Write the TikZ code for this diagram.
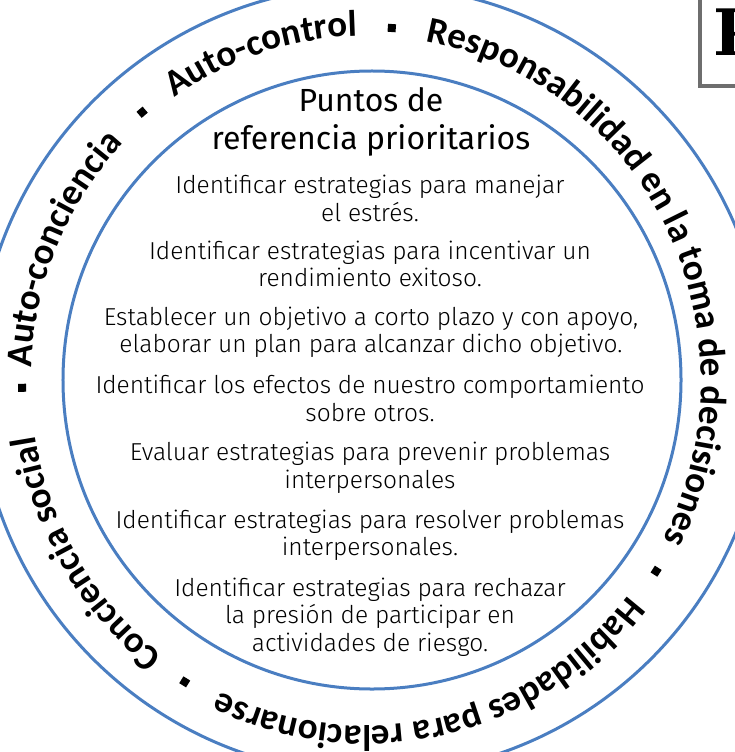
\documentclass[tikz,border=0pt]{standalone}
\usepackage{fontspec}
\usetikzlibrary{decorations.text}
\newfontfamily\ringfont{Carlito}
\newfontfamily\bodyfont{Fira Sans Light}
\newfontfamily\titlefont{Fira Sans}
\newfontfamily\pfont{DejaVu Serif}
\definecolor{ringblue}{RGB}{74,126,193}
\definecolor{boxgray}{RGB}{110,110,110}
\def\ringstyle{\ringfont\bfseries\fontsize{37bp}{40bp}\selectfont}
% text along an elliptical arc centred on (T), mid angle #1, half span #2
\newcommand{\ringarc}[3]{%
  \pgfmathsetmacro{\rsa}{#1+#2}%
  \pgfmathsetmacro{\rea}{#1-#2}%
  \pgfmathsetmacro{\rsx}{335*cos(\rsa)}%
  \pgfmathsetmacro{\rsy}{345*sin(\rsa)}%
  \path[decorate, decoration={text along path, text={|\ringstyle|#3}, text align=center}]
    ([shift={(\rsx,\rsy)}]T) arc[start angle=\rsa, end angle=\rea, x radius=335bp, y radius=345bp];}
% bullet square on the bullet ellipse at parametric angle #1
\newcommand{\ringsq}[2]{%
  \pgfmathsetmacro{\bsx}{344*cos(#2)}%
  \pgfmathsetmacro{\bsy}{354*sin(#2)}%
  \pgfmathsetmacro{\bsr}{#2-90}%
  \node[sq, rotate=\bsr] (#1) at ([shift={(\bsx,\bsy)}]T) {};}
\begin{document}
\begin{tikzpicture}[x=1bp,y=1bp,
  ring/.style={circle, draw=ringblue, line width=3bp, inner sep=0},
  sq/.style={fill=black, minimum size=8bp, inner sep=0},
  body/.style={align=center, font=\bodyfont\fontsize{24.5bp}{27.5bp}\selectfont},
  ttl/.style={align=center, font=\titlefont\fontsize{32bp}{38bp}\selectfont}]
\useasboundingbox (0,0) rectangle (735,-752);
\clip (0,0) rectangle (735,-752);
\coordinate (C) at (372,-380);
\coordinate (T) at (366,-381);
\node[ring, minimum size=618bp] (inner) at (C) {};
\node[ring, minimum size=789bp] (outer) at (C) {};
% ring texts
\ringarc{211}{30}{Conciencia social}
\ringarc{157}{30}{Auto-conciencia}
\ringarc{108.1}{25}{Auto-control}
\ringarc{26.3}{65}{Responsabilidad en la toma de decisiones}
\ringarc{-77.2}{50}{Habilidades para relacionarse}
% bullets
\ringsq{b1}{181.1}
\ringsq{b2}{130.6}
\ringsq{b3}{85.7}
\ringsq{b4}{-32.5}
\ringsq{b5}{-121.8}
% title
\node[ttl] (t) at (371,-122) {Puntos de\\referencia prioritarios};
% items
\node[body] (i1) at (370,-198.5) {Identificar estrategias para manejar\\el estrés.};
\node[body] (i2) at (370,-264) {Identificar estrategias para incentivar un\\rendimiento exitoso.};
\node[body] (i3) at (371,-332.5) {Establecer un objetivo a corto plazo y con apoyo,\\elaborar un plan para alcanzar dicho objetivo.};
\node[body] (i4) at (370,-398.5) {Identificar los efectos de nuestro comportamiento\\sobre otros.};
\node[body] (i5) at (370,-468) {Evaluar estrategias para prevenir problemas\\interpersonales};
\node[body] (i6) at (370,-535.5) {Identificar estrategias para resolver problemas\\interpersonales.};
\node[body] (i7) at (370,-617) {Identificar estrategias para rechazar\\la presión de participar en\\actividades de riesgo.};
% partial title box
\node[draw=boxgray, line width=4bp, anchor=south west, minimum width=120bp, minimum height=110bp] (box) at (698,-88) {};
\node[anchor=base west, inner sep=0, font=\pfont\bfseries\fontsize{64bp}{64bp}\selectfont] (p) at (713,-56) {P};
\end{tikzpicture}
\end{document}
